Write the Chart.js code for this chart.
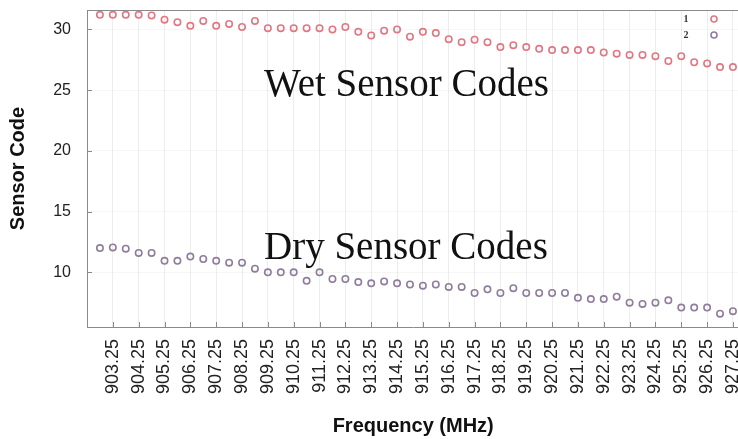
<!DOCTYPE html>
<html lang="en">
<head>
  <meta charset="UTF-8" />
  <title>Sensor Code vs Frequency</title>
  <script src="https://cdn.jsdelivr.net/npm/chart.js"></script>
  <style>
    html, body {
      margin: 0;
      padding: 0;
      background: #fff;
      overflow: hidden;
    }
    .chart-container {
      position: relative;
      width: 745px;
      height: 439px;
    }
  </style>
</head>
<body>
  <div class="chart-container">
    <canvas id="mainChart"></canvas>
  </div>

  <script>
    // frequency of each reading (MHz)
    const frequencies = [
      902.75, 903.25, 903.75, 904.25, 904.75, 905.25, 905.75, 906.25, 906.75, 907.25,
      907.75, 908.25, 908.75, 909.25, 909.75, 910.25, 910.75, 911.25, 911.75, 912.25,
      912.75, 913.25, 913.75, 914.25, 914.75, 915.25, 915.75, 916.25, 916.75, 917.25,
      917.75, 918.25, 918.75, 919.25, 919.75, 920.25, 920.75, 921.25, 921.75, 922.25,
      922.75, 923.25, 923.75, 924.25, 924.75, 925.25, 925.75, 926.25, 926.75, 927.25
    ];
    // series 1 : wet sensor codes
    const wetCodes = [
      31.2, 31.2, 31.2, 31.2, 31.15, 30.8, 30.6, 30.3, 30.7, 30.3,
      30.45, 30.2, 30.7, 30.1, 30.1, 30.1, 30.1, 30.1, 30.0, 30.2,
      29.8, 29.5, 29.9, 30.0, 29.4, 29.8, 29.7, 29.2, 28.95, 29.15,
      28.95, 28.55, 28.7, 28.55, 28.4, 28.3, 28.3, 28.3, 28.3, 28.1,
      28.0, 27.9, 27.9, 27.8, 27.4, 27.8, 27.3, 27.2, 26.9, 26.9
    ];
    // series 2 : dry sensor codes
    const dryCodes = [
      12.0, 12.05, 11.95, 11.6, 11.6, 10.95, 10.95, 11.3, 11.1, 10.95,
      10.8, 10.8, 10.3, 10.0, 10.0, 10.0, 9.3, 10.0, 9.45, 9.45,
      9.2, 9.1, 9.25, 9.1, 9.0, 8.9, 9.0, 8.8, 8.8, 8.3,
      8.6, 8.3, 8.7, 8.3, 8.3, 8.3, 8.3, 7.9, 7.8, 7.8,
      8.0, 7.5, 7.4, 7.5, 7.7, 7.1, 7.1, 7.1, 6.6, 6.8
    ];
    const xTickLabels = [
      '903.25', '904.25', '905.25', '906.25', '907.25', '908.25', '909.25', '910.25', '911.25',
      '912.25', '913.25', '914.25', '915.25', '916.25', '917.25', '918.25', '919.25', '920.25',
      '921.25', '922.25', '923.25', '924.25', '925.25', '926.25', '927.25'
    ];
    const yTickValues = [10, 15, 20, 25, 30];
    const seriesNames = ['1', '2'];

    const wetColor = 'rgba(222, 112, 124, 0.95)';
    const dryColor = 'rgba(138, 118, 150, 0.95)';

    function toPoints(ys) {
      return frequencies.map((f, i) => ({ x: f, y: ys[i] }));
    }

    // frame line on top, small inward tick marks, text notes and the little legend
    const extras = {
      id: 'extras',
      afterDraw(chart) {
        const ctx = chart.ctx;
        const a = chart.chartArea;
        const xs = chart.scales.x;
        const ys = chart.scales.y;
        ctx.save();
        ctx.strokeStyle = '#8a8a8a';
        ctx.lineWidth = 1;
        ctx.beginPath();
        ctx.moveTo(a.left, a.top + 0.5);
        ctx.lineTo(a.right, a.top + 0.5);
        ctx.stroke();

        ctx.beginPath();
        xTickLabels.forEach(t => {
          const px = Math.round(xs.getPixelForValue(Number(t))) + 0.5;
          ctx.moveTo(px, a.bottom);
          ctx.lineTo(px, a.bottom - 5);
        });
        yTickValues.forEach(v => {
          const py = Math.round(ys.getPixelForValue(v)) + 0.5;
          ctx.moveTo(a.left, py);
          ctx.lineTo(a.left + 5, py);
        });
        ctx.stroke();

        ctx.fillStyle = '#111';
        ctx.font = '39px "Liberation Serif", "Times New Roman", serif';
        ctx.textBaseline = 'alphabetic';
        ctx.textAlign = 'left';
        ctx.fillText('Wet Sensor Codes', xs.getPixelForValue(909.1), ys.getPixelForValue(24.5));
        ctx.fillText('Dry Sensor Codes', xs.getPixelForValue(909.1), ys.getPixelForValue(11.1));

        ctx.font = 'bold 10px "Liberation Serif", serif';
        ctx.fillStyle = '#333';
        ctx.textAlign = 'center';
        ctx.textBaseline = 'middle';
        const colors = [wetColor, dryColor];
        seriesNames.forEach((name, i) => {
          const ly = 19 + i * 16;
          ctx.fillText(name, 686, ly);
          ctx.strokeStyle = colors[i];
          ctx.lineWidth = 1.6;
          ctx.beginPath();
          ctx.arc(714, ly, 3, 0, Math.PI * 2);
          ctx.stroke();
        });
        ctx.restore();
      }
    };

    new Chart(document.getElementById('mainChart'), {
      type: 'scatter',
      data: {
        datasets: [
          {
            label: seriesNames[0],
            data: toPoints(wetCodes),
            borderColor: wetColor,
            backgroundColor: 'rgba(255,255,255,0)',
            pointRadius: 3.2,
            pointBorderWidth: 1.6,
            showLine: false
          },
          {
            label: seriesNames[1],
            data: toPoints(dryCodes),
            borderColor: dryColor,
            backgroundColor: 'rgba(255,255,255,0)',
            pointRadius: 3.2,
            pointBorderWidth: 1.6,
            showLine: false
          }
        ]
      },
      options: {
        responsive: true,
        maintainAspectRatio: false,
        animation: false,
        layout: { padding: { top: 10, right: 2, left: 0, bottom: 0 } },
        plugins: {
          legend: { display: false },
          tooltip: { enabled: false }
        },
        scales: {
          x: {
            type: 'linear',
            min: 902.25,
            max: 927.5,
            afterBuildTicks: s => { s.ticks = xTickLabels.map(t => ({ value: Number(t) })); },
            afterFit: s => { s.height = 112; s.paddingLeft = 0; s.paddingRight = 0; },
            ticks: {
              autoSkip: false,
              maxRotation: 90,
              minRotation: 90,
              padding: 12,
              color: '#222',
              font: { family: 'Arial, "Liberation Sans", sans-serif', size: 18 },
              callback: v => Number(v).toFixed(2)
            },
            grid: { color: 'rgba(0,0,0,0.07)', drawTicks: false },
            border: { color: '#8a8a8a' },
            title: {
              display: true,
              text: 'Frequency (MHz)',
              color: '#111',
              font: { family: 'Arial, "Liberation Sans", sans-serif', size: 20, weight: 'bold' },
              padding: { top: 0, bottom: 1 }
            }
          },
          y: {
            min: 5.5,
            max: 31.6,
            afterBuildTicks: s => { s.ticks = yTickValues.map(v => ({ value: v })); },
            afterFit: s => { s.width = 87; s.paddingTop = 0; s.paddingBottom = 0; },
            ticks: {
              padding: 16,
              color: '#222',
              font: { family: 'Arial, "Liberation Sans", sans-serif', size: 16 }
            },
            grid: { color: 'rgba(0,0,0,0.035)', drawTicks: false },
            border: { color: '#8a8a8a' },
            title: {
              display: true,
              text: 'Sensor Code',
              color: '#111',
              font: { family: 'Arial, "Liberation Sans", sans-serif', size: 20, weight: 'bold' },
              padding: { top: 6, bottom: 0 }
            }
          }
        }
      },
      plugins: [extras]
    });
  </script>
</body>
</html>
